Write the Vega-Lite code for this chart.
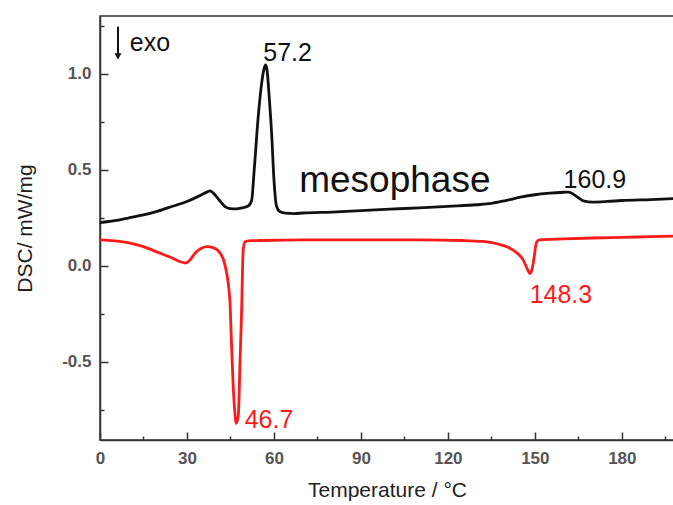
{
  "$schema": "https://vega.github.io/schema/vega-lite/v6.json",
  "width": 574,
  "height": 424,
  "autosize": "none",
  "padding": {"left": 100, "top": 16, "right": 0, "bottom": 65},
  "background": "white",
  "config": {
    "view": {"stroke": "#333", "strokeWidth": 1.5},
    "font": "Liberation Sans",
    "axis": {"domainColor": "#333", "domainWidth": 1.5, "tickColor": "#333", "tickWidth": 1.5, "grid": false, "labelColor": "#555", "labelFontSize": 17, "labelFontWeight": "bold", "titleFontSize": 21, "titleFontWeight": "normal", "titleColor": "#222", "labelFont": "Liberation Sans", "titleFont": "Liberation Sans"}
  },
  "datasets": {
    "curves": [
      {"T": 0, "dsc": 0.225, "run": "heating"},
      {"T": 5, "dsc": 0.235, "run": "heating"},
      {"T": 10, "dsc": 0.25, "run": "heating"},
      {"T": 15, "dsc": 0.265, "run": "heating"},
      {"T": 20, "dsc": 0.285, "run": "heating"},
      {"T": 25, "dsc": 0.31, "run": "heating"},
      {"T": 30, "dsc": 0.335, "run": "heating"},
      {"T": 33, "dsc": 0.355, "run": "heating"},
      {"T": 35, "dsc": 0.37, "run": "heating"},
      {"T": 37, "dsc": 0.385, "run": "heating"},
      {"T": 38, "dsc": 0.39, "run": "heating"},
      {"T": 39, "dsc": 0.38, "run": "heating"},
      {"T": 41, "dsc": 0.345, "run": "heating"},
      {"T": 43, "dsc": 0.31, "run": "heating"},
      {"T": 45, "dsc": 0.298, "run": "heating"},
      {"T": 47, "dsc": 0.297, "run": "heating"},
      {"T": 49, "dsc": 0.302, "run": "heating"},
      {"T": 51, "dsc": 0.31, "run": "heating"},
      {"T": 52.3, "dsc": 0.34, "run": "heating"},
      {"T": 53.2, "dsc": 0.5, "run": "heating"},
      {"T": 54.6, "dsc": 0.78, "run": "heating"},
      {"T": 55.6, "dsc": 0.93, "run": "heating"},
      {"T": 56.5, "dsc": 1.02, "run": "heating"},
      {"T": 57.1, "dsc": 1.045, "run": "heating"},
      {"T": 57.6, "dsc": 1.02, "run": "heating"},
      {"T": 58.5, "dsc": 0.85, "run": "heating"},
      {"T": 59.2, "dsc": 0.69, "run": "heating"},
      {"T": 60, "dsc": 0.45, "run": "heating"},
      {"T": 60.9, "dsc": 0.31, "run": "heating"},
      {"T": 62, "dsc": 0.283, "run": "heating"},
      {"T": 64, "dsc": 0.274, "run": "heating"},
      {"T": 67, "dsc": 0.272, "run": "heating"},
      {"T": 70, "dsc": 0.275, "run": "heating"},
      {"T": 80, "dsc": 0.28, "run": "heating"},
      {"T": 90, "dsc": 0.287, "run": "heating"},
      {"T": 100, "dsc": 0.295, "run": "heating"},
      {"T": 110, "dsc": 0.302, "run": "heating"},
      {"T": 120, "dsc": 0.31, "run": "heating"},
      {"T": 130, "dsc": 0.318, "run": "heating"},
      {"T": 135, "dsc": 0.325, "run": "heating"},
      {"T": 140, "dsc": 0.34, "run": "heating"},
      {"T": 145, "dsc": 0.357, "run": "heating"},
      {"T": 150, "dsc": 0.37, "run": "heating"},
      {"T": 155, "dsc": 0.378, "run": "heating"},
      {"T": 160, "dsc": 0.383, "run": "heating"},
      {"T": 161.5, "dsc": 0.384, "run": "heating"},
      {"T": 163, "dsc": 0.375, "run": "heating"},
      {"T": 165, "dsc": 0.355, "run": "heating"},
      {"T": 167, "dsc": 0.337, "run": "heating"},
      {"T": 170, "dsc": 0.332, "run": "heating"},
      {"T": 175, "dsc": 0.335, "run": "heating"},
      {"T": 180, "dsc": 0.34, "run": "heating"},
      {"T": 190, "dsc": 0.345, "run": "heating"},
      {"T": 198, "dsc": 0.35, "run": "heating"},
      {"T": 0, "dsc": 0.135, "run": "cooling"},
      {"T": 5, "dsc": 0.13, "run": "cooling"},
      {"T": 10, "dsc": 0.12, "run": "cooling"},
      {"T": 15, "dsc": 0.1, "run": "cooling"},
      {"T": 20, "dsc": 0.07, "run": "cooling"},
      {"T": 25, "dsc": 0.04, "run": "cooling"},
      {"T": 28, "dsc": 0.02, "run": "cooling"},
      {"T": 29.5, "dsc": 0.015, "run": "cooling"},
      {"T": 31, "dsc": 0.03, "run": "cooling"},
      {"T": 33, "dsc": 0.07, "run": "cooling"},
      {"T": 35, "dsc": 0.092, "run": "cooling"},
      {"T": 37, "dsc": 0.1, "run": "cooling"},
      {"T": 39, "dsc": 0.095, "run": "cooling"},
      {"T": 41.4, "dsc": 0.067, "run": "cooling"},
      {"T": 43.1, "dsc": 0.005, "run": "cooling"},
      {"T": 44.8, "dsc": -0.18, "run": "cooling"},
      {"T": 45.3, "dsc": -0.38, "run": "cooling"},
      {"T": 45.9, "dsc": -0.61, "run": "cooling"},
      {"T": 46.5, "dsc": -0.76, "run": "cooling"},
      {"T": 46.9, "dsc": -0.82, "run": "cooling"},
      {"T": 47.7, "dsc": -0.78, "run": "cooling"},
      {"T": 48.3, "dsc": -0.5, "run": "cooling"},
      {"T": 48.8, "dsc": -0.26, "run": "cooling"},
      {"T": 49.4, "dsc": 0.083, "run": "cooling"},
      {"T": 50, "dsc": 0.125, "run": "cooling"},
      {"T": 52, "dsc": 0.131, "run": "cooling"},
      {"T": 55, "dsc": 0.132, "run": "cooling"},
      {"T": 70, "dsc": 0.135, "run": "cooling"},
      {"T": 90, "dsc": 0.135, "run": "cooling"},
      {"T": 110, "dsc": 0.135, "run": "cooling"},
      {"T": 125, "dsc": 0.132, "run": "cooling"},
      {"T": 132, "dsc": 0.127, "run": "cooling"},
      {"T": 137, "dsc": 0.115, "run": "cooling"},
      {"T": 141, "dsc": 0.095, "run": "cooling"},
      {"T": 144, "dsc": 0.065, "run": "cooling"},
      {"T": 146, "dsc": 0.03, "run": "cooling"},
      {"T": 147.5, "dsc": -0.02, "run": "cooling"},
      {"T": 148.3, "dsc": -0.04, "run": "cooling"},
      {"T": 149, "dsc": -0.02, "run": "cooling"},
      {"T": 149.8, "dsc": 0.05, "run": "cooling"},
      {"T": 150.5, "dsc": 0.12, "run": "cooling"},
      {"T": 151.5, "dsc": 0.135, "run": "cooling"},
      {"T": 160, "dsc": 0.14, "run": "cooling"},
      {"T": 170, "dsc": 0.145, "run": "cooling"},
      {"T": 180, "dsc": 0.148, "run": "cooling"},
      {"T": 190, "dsc": 0.152, "run": "cooling"},
      {"T": 198, "dsc": 0.155, "run": "cooling"}
    ],
    "peaks": [
      {"T": 64.7, "dsc": 1.11, "text": "57.2", "run": "heating"},
      {"T": 170.7, "dsc": 0.448, "text": "160.9", "run": "heating"},
      {"T": 58.3, "dsc": -0.8, "text": "46.7", "run": "cooling"},
      {"T": 159, "dsc": -0.15, "text": "148.3", "run": "cooling"}
    ],
    "notes": [
      {"T": 101.7, "dsc": 0.44, "text": "mesophase"}
    ],
    "exo": [
      {"T": 10.3, "dsc": 1.157, "text": "exo"}
    ],
    "arrow": [
      {"T": 6.2, "top": 1.245, "bottom": 1.09}
    ]
  },
  "layer": [
    {
      "data": {"name": "curves"},
      "mark": {"type": "line", "strokeWidth": 2.8, "interpolate": "monotone", "clip": true},
      "encoding": {
        "x": {"field": "T", "type": "quantitative", "scale": {"domain": [0, 198], "nice": false, "zero": false},
          "axis": {"title": "Temperature / °C", "values": [0, 15, 30, 45, 60, 75, 90, 105, 120, 135, 150, 165, 180, 195],
            "labelExpr": "datum.value % 30 === 0 ? datum.label : ''",
            "tickSize": {"condition": {"test": "datum.value % 30 === 0", "value": -8}, "value": -4},
            "labelPadding": 18, "titlePadding": 13, "labelFlush": false}},
        "y": {"field": "dsc", "type": "quantitative", "scale": {"domain": [-0.906, 1.3], "nice": false, "zero": false},
          "axis": {"title": "DSC/ mW/mg", "values": [-0.75, -0.5, -0.25, 0, 0.25, 0.5, 0.75, 1.0, 1.25],
            "format": ".1f",
            "labelExpr": "abs(datum.value * 2 - round(datum.value * 2)) < 0.001 ? replace(datum.label, '−', '-') : ''",
            "tickSize": {"condition": {"test": "abs(datum.value * 2 - round(datum.value * 2)) < 0.001", "value": -8}, "value": -4},
            "labelPadding": 17, "titlePadding": 26}},
        "color": {"field": "run", "type": "nominal", "scale": {"domain": ["heating", "cooling"], "range": ["#111111", "#ff1a1a"]}, "legend": null},
        "detail": {"field": "run"}
      }
    },
    {
      "data": {"name": "peaks"},
      "mark": {"type": "text", "fontSize": 25, "font": "Liberation Sans", "align": "center", "baseline": "middle"},
      "encoding": {
        "x": {"field": "T", "type": "quantitative"},
        "y": {"field": "dsc", "type": "quantitative"},
        "text": {"field": "text"},
        "color": {"field": "run", "type": "nominal", "scale": {"domain": ["heating", "cooling"], "range": ["#222222", "#ff1a1a"]}, "legend": null}
      }
    },
    {
      "data": {"name": "notes"},
      "mark": {"type": "text", "fontSize": 37, "font": "Liberation Sans", "align": "center", "baseline": "middle", "color": "#111"},
      "encoding": {
        "x": {"field": "T", "type": "quantitative"},
        "y": {"field": "dsc", "type": "quantitative"},
        "text": {"field": "text"}
      }
    },
    {
      "data": {"name": "exo"},
      "mark": {"type": "text", "fontSize": 25, "font": "Liberation Sans", "align": "left", "baseline": "middle", "color": "#111"},
      "encoding": {
        "x": {"field": "T", "type": "quantitative"},
        "y": {"field": "dsc", "type": "quantitative"},
        "text": {"field": "text"}
      }
    },
    {
      "data": {"name": "arrow"},
      "mark": {"type": "rule", "strokeWidth": 2, "color": "#111"},
      "encoding": {
        "x": {"field": "T", "type": "quantitative"},
        "y": {"field": "top", "type": "quantitative"},
        "y2": {"field": "bottom"}
      }
    },
    {
      "data": {"name": "arrow"},
      "mark": {"type": "point", "shape": "triangle-down", "filled": true, "size": 50, "color": "#111", "opacity": 1},
      "encoding": {
        "x": {"field": "T", "type": "quantitative"},
        "y": {"field": "bottom", "type": "quantitative"}
      }
    }
  ]
}
